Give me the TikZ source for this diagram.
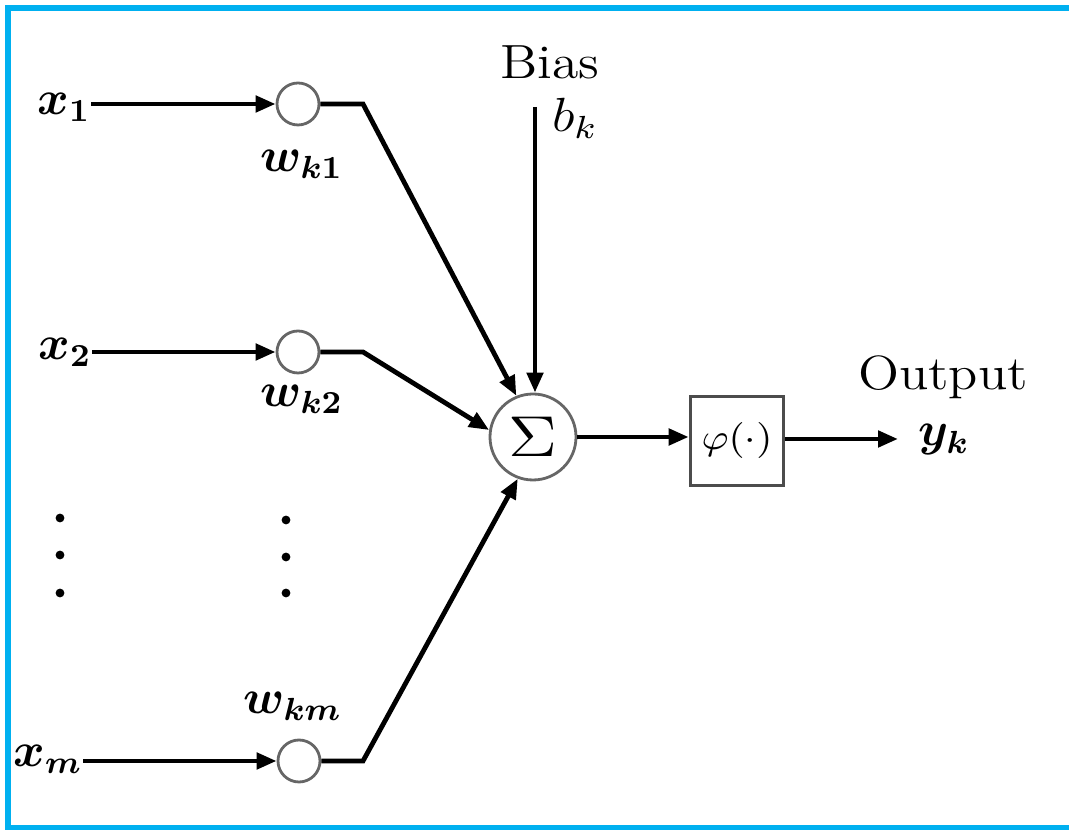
\documentclass[tikz,border=0pt]{standalone}
\usepackage{amsmath}
\usepackage{graphicx}
\usetikzlibrary{arrows.meta}
\definecolor{framecol}{HTML}{00B0F0}
\newcommand{\widetxt}[1]{\scalebox{1.12}[1]{#1}}
\begin{document}
\begin{tikzpicture}[x=0.25pt,y=-0.25pt,
  conn/.style={line width=1.2pt,-{Triangle[length=5pt,width=4pt]}},
  wcirc/.style={circle,draw=black!60,line width=0.7pt,minimum size=10.5pt,inner sep=0pt},
  lab/.style={inner sep=0pt,font=\fontsize{12}{14}\selectfont},
  dotnode/.style={circle,fill=black,inner sep=0pt,minimum size=2.2pt}]
\useasboundingbox (0,0) rectangle (1069,830);
\fill[white] (0,0) rectangle (1069,830);
\draw[framecol,line width=1.5pt] (1069,8) -- (8,8) -- (8,828) -- (1069,828);

% weight circles
\node[wcirc] (c1) at (298,104) {};
\node[wcirc] (c2) at (298,352) {};
\node[wcirc] (cm) at (299,761) {};

% input labels
\node[lab] (x1) at (64,107) {$\boldsymbol{x_1}$};
\node[lab] (x2) at (65,352) {$\boldsymbol{x_2}$};
\node[lab] (xm) at (48,759) {$\boldsymbol{x_m}$};

% weight labels
\node[lab] (w1) at (302,164) {$\boldsymbol{w_{k1}}$};
\node[lab] (w2) at (302,399) {$\boldsymbol{w_{k2}}$};
\node[lab] (wm) at (293,706) {$\boldsymbol{w_{km}}$};

% dots
\node[dotnode] (d1) at (60,518) {};
\node[dotnode] (d2) at (60,555) {};
\node[dotnode] (d3) at (60,593) {};
\node[dotnode] (d4) at (286,520) {};
\node[dotnode] (d5) at (286,557) {};
\node[dotnode] (d6) at (286,593) {};

% summing junction
\node[circle,draw=black!60,line width=0.7pt,minimum size=21.5pt,inner sep=0pt,
      font=\fontsize{13.5}{15}\selectfont] (sum) at (533,437) {\scalebox{1.2}[1]{$\Sigma$}};

% activation box
\node[draw=black!70,line width=0.9pt,minimum width=23.25pt,minimum height=22.25pt,
      inner sep=0pt,font=\fontsize{9}{11}\selectfont] (act) at (737,441) {\widetxt{$\varphi(\cdot)$}};

% bias and output labels
\node[lab] (bias) at (550,62) {\widetxt{Bias}};
\node[lab] (bk) at (575,118) {\widetxt{$b_k$}};
\node[lab] (out) at (943,377) {\widetxt{Output}};
\node[lab] (yk) at (944,440) {$\boldsymbol{y_k}$};

% bends and free ends
\coordinate (k1) at (363,104);
\coordinate (k2) at (363,352);
\coordinate (km) at (363,761);
\coordinate (bt) at (535,107);
\coordinate (yt) at (898,439);

% connectors
\draw[conn] (x1.east |- c1) -- (c1);
\draw[conn] (x2.east |- c2) -- (c2);
\draw[conn] (xm.east |- cm) -- (cm);
\draw[conn] (c1) -- (k1) -- (sum.112);
\draw[conn] (c2) -- (k2) -- (sum.171);
\draw[conn] (cm) -- (km) -- (sum.250);
\draw[conn] (bt) -- (bt |- sum.north);
\draw[conn] (sum.east) -- (sum.east -| act.west);
\draw[conn] (act.east |- yt) -- (yt);
\end{tikzpicture}
\end{document}
